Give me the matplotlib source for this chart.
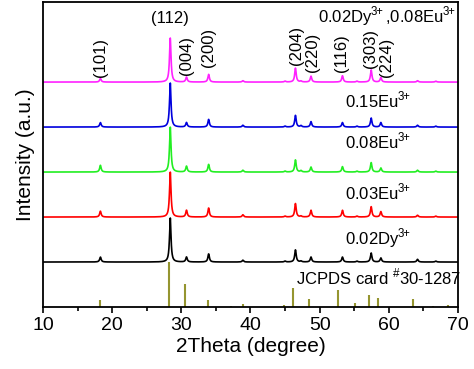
import numpy as np
import matplotlib
matplotlib.use('Agg')
import matplotlib.pyplot as plt
from matplotlib.ticker import MultipleLocator

plt.rcParams['font.family'] = ['Liberation Sans', 'DejaVu Sans']
plt.rcParams['mathtext.fontset'] = 'custom'
plt.rcParams['mathtext.rm'] = 'Liberation Sans'

# Data
sup = '$^{\\mathregular{3\\!\\!+}}$'
peak_pos = [18.3, 28.4, 30.75, 33.95, 38.9, 45.0, 46.5, 47.3, 48.75, 53.3, 55.4, 57.45, 58.85, 64.15, 66.8]
series_names = ['0.02Dy' + sup, '0.03Eu' + sup, '0.08Eu' + sup, '0.15Eu' + sup,
                '0.02Dy' + sup + ',0.08Eu' + sup]
series_colors = ['black', '#ff0000', '#22ee22', '#0000dd', '#ff22ff']
series_heights = [
    [0.11, 0.98, 0.11, 0.18, 0.04, 0.02, 0.27, 0.02, 0.11, 0.11, 0.02, 0.20, 0.09, 0.06, 0.02],
    [0.13, 1.00, 0.15, 0.20, 0.05, 0.02, 0.30, 0.02, 0.15, 0.15, 0.02, 0.23, 0.12, 0.04, 0.02],
    [0.15, 1.00, 0.13, 0.17, 0.04, 0.02, 0.27, 0.03, 0.11, 0.12, 0.02, 0.21, 0.09, 0.04, 0.02],
    [0.10, 0.98, 0.10, 0.17, 0.04, 0.02, 0.26, 0.03, 0.12, 0.10, 0.02, 0.20, 0.10, 0.04, 0.02],
    [0.08, 0.98, 0.11, 0.17, 0.03, 0.02, 0.31, 0.02, 0.13, 0.14, 0.02, 0.27, 0.10, 0.03, 0.02],
]
offsets = [1.0, 2.0, 3.0, 4.0, 5.0]

jcpds_pos = [18.3, 28.2, 30.5, 33.8, 37.2, 38.9, 44.8, 46.1, 48.5, 52.7, 55.1, 57.2, 58.4, 63.5, 66.4, 68.6]
jcpds_int = [0.15, 1.00, 0.52, 0.15, 0.03, 0.06, 0.04, 0.42, 0.18, 0.38, 0.09, 0.27, 0.19, 0.17, 0.03, 0.04]

hkl_labels = ['(101)', '(004)', '(200)', '(204)', '(220)', '(116)', '(303)', '(224)']
hkl_x = [18.3, 30.8, 33.9, 46.7, 49.0, 53.2, 57.3, 59.7]
hkl_y = [5.12, 5.15, 5.33, 5.38, 5.22, 5.22, 5.31, 5.11]

label_x = [53.7, 53.7, 53.7, 53.7, 69.7]
label_y = [1.53, 2.56, 3.69, 4.60, 6.47]

fig = plt.figure(figsize=(4.74, 3.69), dpi=100)
ax = fig.add_axes([0.0907, 0.168, 0.8755, 0.8266])

tt = np.linspace(10, 70, 3000)
gamma = 0.13
for h, off, c in zip(series_heights, offsets, series_colors):
    y = np.zeros_like(tt)
    for p, a in zip(peak_pos, h):
        y += a / (1 + ((tt - p) / gamma) ** 2)
    ax.plot(tt, y + off, color=c, lw=1.2)

ax.vlines(jcpds_pos, 0, jcpds_int, color='#959530', lw=1.5)

for t, x, y in zip(hkl_labels, hkl_x, hkl_y):
    ax.text(x, y, t, rotation=90, ha='center', va='bottom', fontsize=12)
ax.text(28.4, 6.42, '(112)', ha='center', va='center', fontsize=12)

for t, x, y in zip(series_names, label_x, label_y):
    if x > 60:
        ax.text(x, y, t, ha='right', va='center', fontsize=12)
    else:
        ax.text(x, y, t, ha='left', va='center', fontsize=12)
ax.text(46.6, 0.67, 'JCPDS card $^{\\mathregular{\\#}}$30-1287', ha='left', va='center', fontsize=12)

ax.set_xlim(10, 70)
ax.set_ylim(0, 6.78)
ax.set_yticks([])
ax.xaxis.set_major_locator(MultipleLocator(10))
ax.xaxis.set_minor_locator(MultipleLocator(5))
ax.tick_params(axis='x', which='major', direction='out', length=4, width=1.2, labelsize=14)
ax.tick_params(axis='x', which='minor', direction='out', length=3, width=1.2)
for s in ax.spines.values():
    s.set_linewidth(1.3)
ax.set_xlabel('2Theta (degree)', fontsize=15, labelpad=2)
ax.set_ylabel('Intensity (a.u.)', fontsize=15, labelpad=6)

fig.savefig('out.png', dpi=100)
